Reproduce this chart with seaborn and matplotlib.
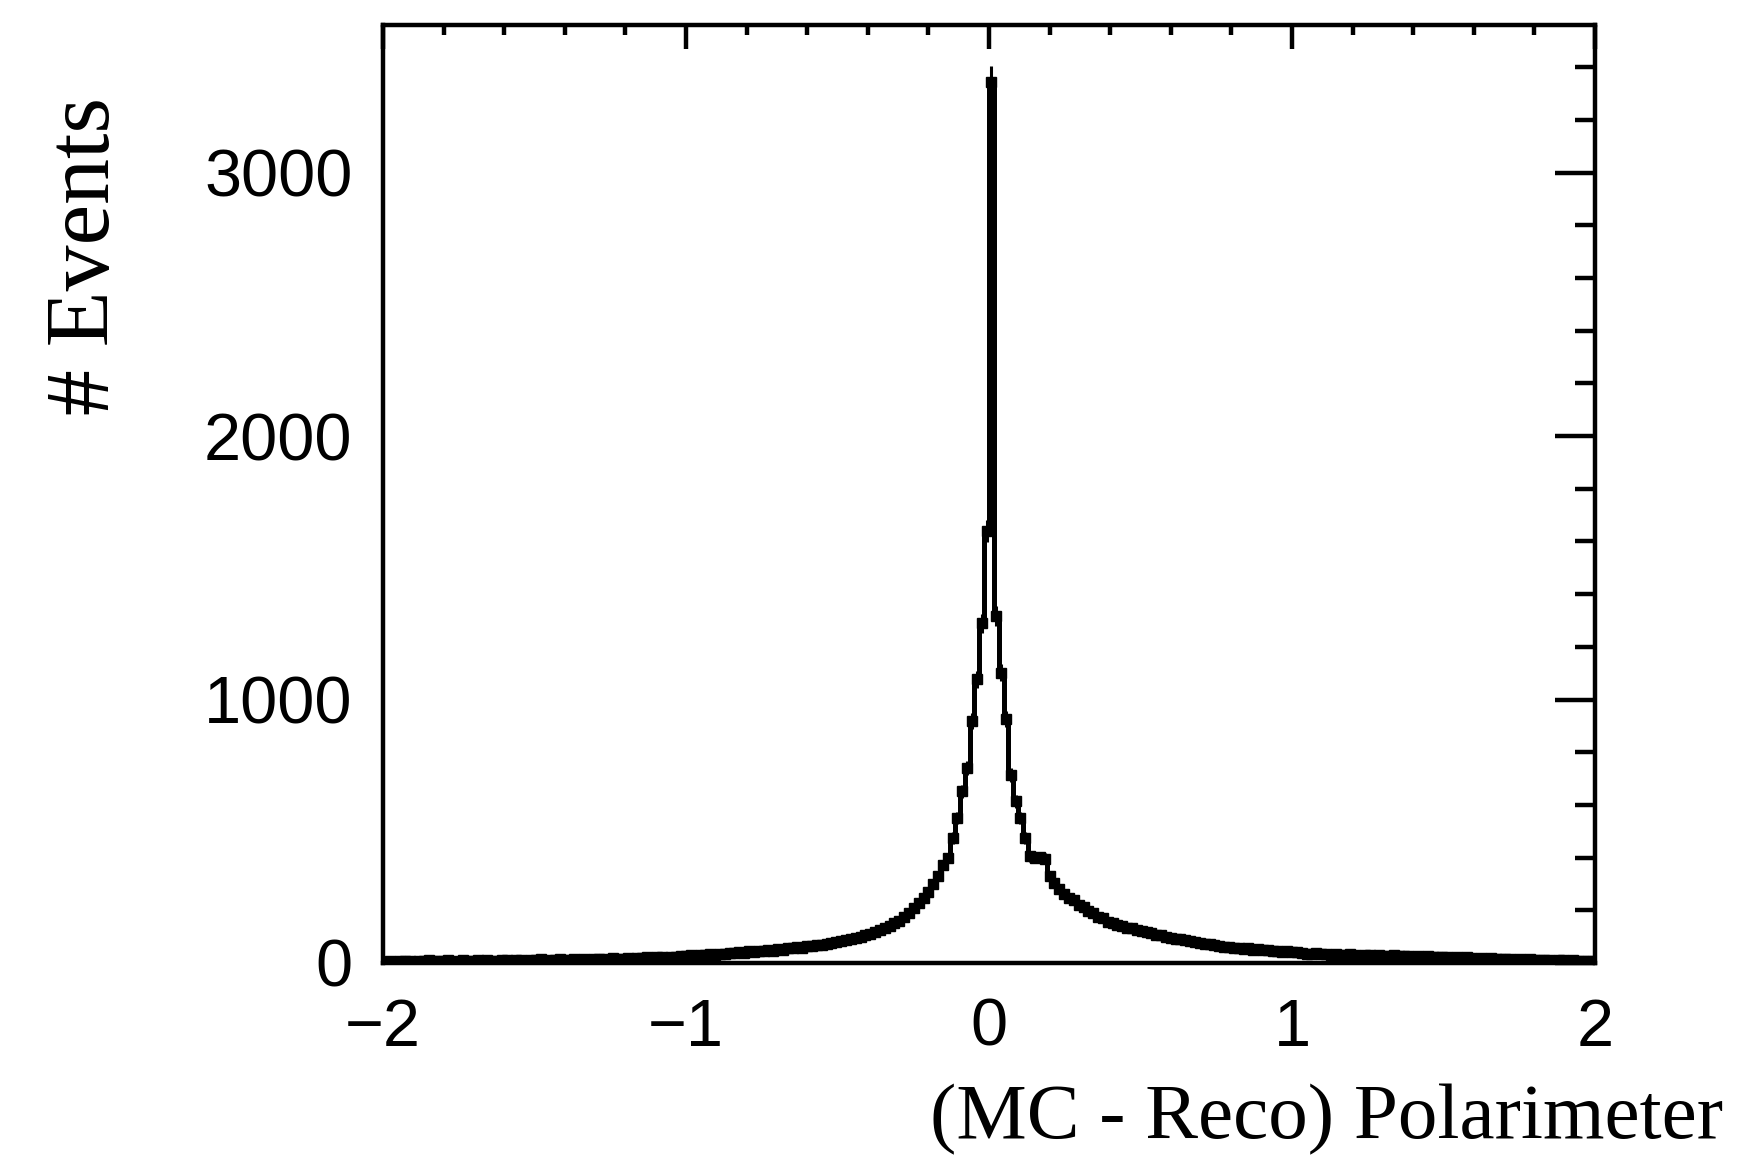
import numpy as np
import pandas as pd
import matplotlib
matplotlib.use("Agg")
import matplotlib.pyplot as plt
from matplotlib.ticker import MultipleLocator
import seaborn as sns

# histogram: 250 bins of width 0.016 from -2 to 2
x_min, x_max, n_bins = -2.0, 2.0, 250

left_tail = [5, 8, 4, 7, 9, 6, 3, 8, 7, 10,
             6, 9, 7, 11, 8, 5, 10, 7, 9, 12,
             8, 11, 9, 6, 12, 10, 8, 13, 11, 9,
             12, 10, 14, 9, 13, 11, 15, 12, 10, 14,
             13, 16, 12, 15, 17, 14, 13, 18, 16, 15,
             19, 17, 20, 18, 22, 19, 21, 24, 20, 23]

left_shoulder = [24, 27, 25, 30, 27, 31, 29, 34, 32, 36,
                 34, 39, 37, 41, 39, 44, 42, 46, 44, 49,
                 47, 52, 50, 55, 58, 60, 58, 65, 63, 68,
                 70, 72, 76, 78, 82, 86, 90, 95, 99, 105,
                 111, 119, 126, 133, 141, 150, 160, 173, 189, 208]

core = [228, 248, 270, 300, 330, 372, 398, 474, 550, 651,
        739, 919, 1077, 1290, 1640,
        3345, 1317, 1102, 925, 714,
        613, 550, 474, 405, 400, 402, 396, 330, 305, 282]

right_shoulder = [262, 247, 238, 221, 213, 198, 188, 175, 169, 157,
                  153, 144, 141, 133, 131, 125, 122, 116, 114, 107,
                  105, 97, 96, 91, 90, 86, 84, 79, 77, 72,
                  71, 67, 66, 62, 62, 58, 58, 54, 55, 51,
                  52, 49, 50, 46, 47, 43, 44, 40, 41, 37]

right_tail = [36, 34, 37, 33, 35, 31, 34, 32, 30, 33,
              31, 28, 30, 29, 27, 30, 28, 26, 29, 27,
              25, 28, 24, 26, 23, 25, 22, 24, 21, 23,
              20, 22, 19, 21, 18, 17, 20, 16, 18, 15,
              17, 14, 16, 13, 15, 12, 14, 11, 13, 10,
              12, 9, 11, 10, 8, 11, 7, 9, 8, 6]

counts = np.array(left_tail + left_shoulder + core + right_shoulder + right_tail, dtype=float)
edges = np.linspace(x_min, x_max, n_bins + 1)
centers = 0.5 * (edges[:-1] + edges[1:])
half_width = 0.5 * (edges[1] - edges[0])
hist = pd.DataFrame({"polarimeter": centers, "events": counts})

sns.set_style("white")
plt.rcParams['font.family'] = ['Liberation Sans', 'DejaVu Sans']
plt.rcParams['text.color'] = 'black'

fig = plt.figure(figsize=(17.64, 11.65), dpi=100)
ax = fig.add_axes([0.2171, 0.1734, 0.6871, 0.8051])

sns.histplot(data=hist, x="polarimeter", weights="events", bins=n_bins,
             binrange=(x_min, x_max), element="step", fill=False,
             color="black", linewidth=3.6, ax=ax)
ax.errorbar(hist["polarimeter"], hist["events"], yerr=np.sqrt(hist["events"]),
            xerr=half_width, fmt="s", ms=6.5, color="black", elinewidth=2.2, capsize=0)

ax.set_xlim(x_min, x_max)
ax.set_ylim(0, 3560)
ax.set_xlabel("")
ax.set_ylabel("")

ax.xaxis.set_major_locator(MultipleLocator(1))
ax.xaxis.set_minor_locator(MultipleLocator(0.2))
ax.yaxis.set_major_locator(MultipleLocator(1000))
ax.yaxis.set_minor_locator(MultipleLocator(200))

ax.tick_params(axis="both", which="both", direction="in", top=True, right=True,
               width=3.2, color="black", labelsize=48, labelcolor="black")
ax.tick_params(axis="x", which="major", length=17, pad=25)
ax.tick_params(axis="x", which="minor", length=7)
ax.tick_params(axis="y", which="major", length=29, pad=22)
ax.tick_params(axis="y", which="minor", length=14.5)

for sp in ax.spines.values():
    sp.set_linewidth(3.2)
    sp.set_color("black")

fig.text(0.977, 0.039, "(MC - Reco) Polarimeter", family="Liberation Serif",
         fontsize=57, color="black", ha="right", va="center")
fig.text(0.049, 0.917, "# Events", family="Liberation Serif", fontsize=66,
         color="black", rotation=90, ha="center", va="top")

fig.savefig("out.png", dpi=100, facecolor="white")
